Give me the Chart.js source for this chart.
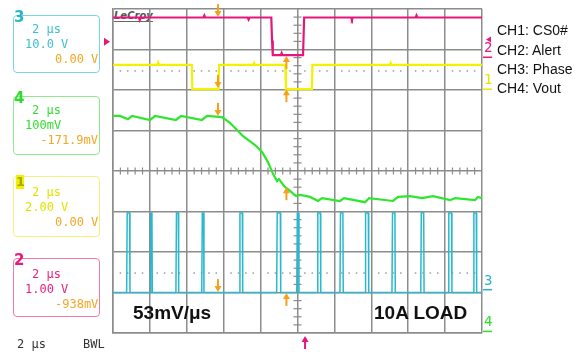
<!DOCTYPE html>
<html>
<head>
<meta charset="utf-8">
<script src="https://cdn.jsdelivr.net/npm/chart.js@4"></script>
<style>
	body { margin: 0; background: #fff; }
	#wrap { position: relative; width: 585px; height: 352px; overflow: hidden; }
	#scope { position: absolute; left: 0; top: 0; z-index: 1; }
	.box { position: absolute; left: 13px; width: 85px; border: 1.5px solid; border-radius: 4px; z-index: 2; }
	.txt { position: absolute; font: 12px/12px 'DejaVu Sans Mono', monospace; white-space: pre; z-index: 3; }
	.num { position: absolute; font: bold 15px/15px 'DejaVu Sans', sans-serif; z-index: 3; }
	.leg { position: absolute; left: 497px; font: 14px/16px 'Liberation Sans', Arial, sans-serif; color: #111; z-index: 3; }
	.big { position: absolute; font: bold 19px/19px 'Liberation Sans', Arial, sans-serif; color: #111; z-index: 3; }
	#logo { position: absolute; left: 114px; top: 10px; font: italic bold 10px/11px 'DejaVu Sans', sans-serif; color: #555; border-bottom: 1.5px solid #666; z-index: 0; }
</style>
</head>
<body>
<div id="wrap">
	<div id="logo">LeCroy</div>
	<canvas id="scope" width="585" height="352"></canvas>

	<!-- channel 3 box -->
	<div class="box" style="top:15px;height:56px;border-color:#7ad6e2"></div>
	<div class="num" style="left:14px;top:10px;color:#27b6c8">3</div>
	<div class="txt" style="left:32px;top:23px;color:#3bbfd0">2 μs</div>
	<div class="txt" style="left:25px;top:38px;color:#3bbfd0">10.0 V</div>
	<div class="txt" style="left:55px;top:53px;width:43px;text-align:right;color:#f5a623">0.00 V</div>

	<!-- channel 4 box -->
	<div class="box" style="top:96px;height:57px;border-color:#90ea8c"></div>
	<div class="num" style="left:14px;top:91px;color:#2ddd2d">4</div>
	<div class="txt" style="left:32px;top:104px;color:#33dd33">2 μs</div>
	<div class="txt" style="left:25px;top:119px;color:#33dd33">100mV</div>
	<div class="txt" style="left:38px;top:134px;width:60px;text-align:right;color:#f5a623">-171.9mV</div>

	<!-- channel 1 box -->
	<div class="box" style="top:176px;height:59px;border-color:#f2f27a"></div>
	<div class="num" style="left:16px;top:175px;width:8px;height:14px;line-height:14px;font-size:13px;text-align:center;background:#f0f000;color:#a8a800">1</div>
	<div class="txt" style="left:32px;top:186px;color:#e2e200">2 μs</div>
	<div class="txt" style="left:25px;top:201px;color:#e2e200">2.00 V</div>
	<div class="txt" style="left:55px;top:216px;width:43px;text-align:right;color:#f5a623">0.00 V</div>

	<!-- channel 2 box -->
	<div class="box" style="top:258px;height:57px;border-color:#f07aa8"></div>
	<div class="num" style="left:14px;top:253px;color:#e8197d">2</div>
	<div class="txt" style="left:32px;top:268px;color:#e8207f">2 μs</div>
	<div class="txt" style="left:25px;top:283px;color:#e8207f">1.00 V</div>
	<div class="txt" style="left:55px;top:298px;width:43px;text-align:right;color:#f5a623">-938mV</div>

	<div class="txt" style="left:17px;top:338px;color:#333">2 μs</div>
	<div class="txt" style="left:83px;top:338px;color:#333">BWL</div>

	<div class="leg" style="top:22px">CH1: CS0#</div>
	<div class="leg" style="top:42px">CH2: Alert</div>
	<div class="leg" style="top:61px">CH3: Phase</div>
	<div class="leg" style="top:80px">CH4: Vout</div>

	<div class="big" style="left:133px;top:303px">53mV/μs</div>
	<div class="big" style="left:374px;top:303px">10A LOAD</div>
</div>

<script>
// Time in µs (2 µs/div, trigger at 0), amplitude in screen divisions (centre = 0)

// CH2 Alert (magenta)
const alertT = [-10, -8.6, -8.55, -8.5, -5.1, -5.05, -5.0, -2.7, -2.65, -2.6, -1.42, -1.38, -1.34, -0.9, -0.86, -0.82, 0.30, 0.36, 2.9, 2.95, 3.0, 6.4, 6.45, 6.5, 10];
const alertV = [3.79, 3.79, 3.73, 3.79, 3.79, 3.84, 3.79, 3.79, 3.74, 3.79, 3.79, 3.22, 2.86, 2.86, 2.91, 2.86, 2.86, 3.79, 3.79, 3.74, 3.79, 3.79, 3.84, 3.79, 3.79];

// CH1 CS0# (yellow)
const csT = [-10, -7.6, -7.55, -7.5, -5.73, -5.70, -4.28, -4.25, -2.4, -2.35, -2.3, -0.66, -0.63, 0.78, 0.81, 5.0, 5.05, 5.1, 10];
const csV = [2.62, 2.62, 2.68, 2.62, 2.62, 2.02, 2.02, 2.62, 2.62, 2.67, 2.62, 2.62, 2.02, 2.02, 2.62, 2.62, 2.67, 2.62, 2.62];

// CH4 Vout (green)
const voutT = [-10, -9.62, -9.19, -8.97, -7.99, -7.72, -6.59, -6.31, -5.18, -4.91, -4.09, -3.66, -3.12, -2.95, -2.30, -1.92, -1.60, -1.33, -1.11, -1.00, -0.73, -0.41, -0.08, 0.14, 0.68, 1.11, 1.33, 2.30, 2.52, 3.66, 3.88, 5.18, 5.45, 6.10, 6.75, 7.34, 8.27, 8.54, 9.62, 9.78, 10];
const voutV = [1.36, 1.36, 1.28, 1.36, 1.26, 1.36, 1.26, 1.36, 1.26, 1.36, 1.33, 1.19, 0.94, 0.86, 0.64, 0.47, 0.22, -0.07, -0.25, -0.20, -0.37, -0.49, -0.62, -0.59, -0.64, -0.74, -0.67, -0.74, -0.67, -0.77, -0.67, -0.74, -0.64, -0.62, -0.67, -0.62, -0.72, -0.67, -0.72, -0.64, -0.67];

// CH3 Phase (cyan) pulses
const phaseStart = [-9.26, -7.99, -6.59, -5.19, -3.15, -1.13, -0.04, 1.07, 2.30, 3.66, 5.12, 6.68, 8.17, 9.53];
const phaseEnd = [-9.08, -7.87, -6.44, -5.07, -2.97, -0.91, 0.08, 1.26, 2.48, 3.86, 5.30, 6.86, 8.37, 9.71];
const phaseLow = -3.0;
const phaseHigh = -1.04;

// cursor arrows (orange): time, tip level, direction
const arrowT = [-4.31, -4.31, -4.31, -4.31, -0.60, -0.60, -0.60, -0.60];
const arrowTip = [3.80, 2.05, 1.36, -2.99, 2.84, 2.02, -0.40, -3.01];
const arrowDir = ['down', 'down', 'down', 'down', 'up', 'up', 'up', 'up'];

// trigger position / level
const triggerT = 0.41;
const triggerLevel = 3.19;

// dotted reference lines
const dottedLevels = [2.47, -2.52];

// right-hand channel markers
const markerText = ['2', '1', '3', '4'];
const markerLevel = [3.0, 2.21, -2.74, -3.77];
const markerColor = ['#e8197d', '#e6e600', '#27b6c8', '#2ddd2d'];

const MAGENTA = '#e5177b';
const YELLOW = '#f2f200';
const GREEN = '#2fe62f';
const CYAN = '#2bb8cc';
const ORANGE = '#f7a11a';
const GRID = '#8c8c8c';

function toPoints(ts, vs) {
	return ts.map((t, i) => ({ x: t, y: vs[i] }));
}

function pulsePoints() {
	const pts = [{ x: -10, y: phaseLow }];
	phaseStart.forEach((s, i) => {
		const e = phaseEnd[i];
		pts.push({ x: s, y: phaseLow });
		pts.push({ x: s + 0.03, y: phaseHigh });
		pts.push({ x: e - 0.02, y: phaseHigh });
		pts.push({ x: e, y: phaseLow });
	});
	pts.push({ x: 10, y: phaseLow });
	return pts;
}

// minor ticks on the centre cross and dotted reference lines
const scopeDecor = {
	id: 'scopeDecor',
	beforeDatasetsDraw(chart) {
		const { ctx, scales: { x, y } } = chart;
		const cx = x.getPixelForValue(0);
		const cy = y.getPixelForValue(0);
		ctx.save();
		ctx.strokeStyle = GRID;
		ctx.lineWidth = 1.2;
		for (let v = -4; v <= 4.001; v += 0.2) {
			if (Math.abs(v - Math.round(v)) < 0.01) continue;
			const py = y.getPixelForValue(v);
			ctx.beginPath();
			ctx.moveTo(cx - 4, py);
			ctx.lineTo(cx + 4, py);
			ctx.stroke();
		}
		for (let t = -10; t <= 10.001; t += 0.4) {
			if (Math.abs(t / 2 - Math.round(t / 2)) < 0.01) continue;
			const px = x.getPixelForValue(t);
			ctx.beginPath();
			ctx.moveTo(px, cy - 3.5);
			ctx.lineTo(px, cy + 3.5);
			ctx.stroke();
		}
		ctx.fillStyle = '#9a9a9a';
		dottedLevels.forEach((lv) => {
			const py = y.getPixelForValue(lv);
			for (let t = -10; t <= 10.001; t += 0.4) {
				if (Math.abs(t / 2 - Math.round(t / 2)) < 0.01) continue;
				const px = x.getPixelForValue(t);
				ctx.fillRect(px - 0.75, py - 0.75, 1.5, 1.5);
			}
		});
		ctx.restore();
	},
	afterDatasetsDraw(chart) {
		const { ctx, chartArea, scales: { x, y } } = chart;
		ctx.save();

		// orange cursor arrows
		function arrow(px, tipY, dir, color) {
			const s = dir === 'down' ? -1 : 1;
			ctx.strokeStyle = color;
			ctx.fillStyle = color;
			ctx.lineWidth = 2;
			ctx.beginPath();
			ctx.moveTo(px, tipY + s * 13);
			ctx.lineTo(px, tipY + s * 5);
			ctx.stroke();
			ctx.beginPath();
			ctx.moveTo(px - 3.5, tipY + s * 6);
			ctx.lineTo(px + 3.5, tipY + s * 6);
			ctx.lineTo(px, tipY);
			ctx.closePath();
			ctx.fill();
		}
		arrowT.forEach((t, i) => {
			arrow(x.getPixelForValue(t), y.getPixelForValue(arrowTip[i]), arrowDir[i], ORANGE);
		});

		// trigger position arrow under the grid
		arrow(x.getPixelForValue(triggerT), chartArea.bottom + 3, 'up', MAGENTA);

		// trigger level marker on the left
		const ty = y.getPixelForValue(triggerLevel);
		ctx.fillStyle = MAGENTA;
		ctx.beginPath();
		ctx.moveTo(chartArea.left - 9, ty - 4);
		ctx.lineTo(chartArea.left - 3, ty);
		ctx.lineTo(chartArea.left - 9, ty + 4);
		ctx.closePath();
		ctx.fill();

		// channel markers on the right
		ctx.font = '14px "DejaVu Sans Mono", monospace';
		ctx.textBaseline = 'bottom';
		markerText.forEach((m, i) => {
			const py = y.getPixelForValue(markerLevel[i]);
			ctx.fillStyle = markerColor[i];
			ctx.fillText(m, chartArea.right + 2, py + 6);
			ctx.fillRect(chartArea.right + 1, py + 7, 9, 1.5);
		});
		// small arrow above marker 2
		const m2 = y.getPixelForValue(markerLevel[0]);
		ctx.fillStyle = markerColor[0];
		ctx.beginPath();
		ctx.moveTo(chartArea.right + 4, m2 - 10);
		ctx.lineTo(chartArea.right + 9, m2 - 13);
		ctx.lineTo(chartArea.right + 9, m2 - 7);
		ctx.closePath();
		ctx.fill();
		ctx.restore();
	},
};

function axisOpts(min, max, step) {
	return {
		type: 'linear',
		min: min,
		max: max,
		ticks: { display: false, stepSize: step },
		grid: { color: GRID, lineWidth: 1.5, drawTicks: false },
		border: { color: GRID, width: 1.5 },
	};
}

const ctx = document.getElementById('scope').getContext('2d');
new Chart(ctx, {
	type: 'scatter',
	data: {
		datasets: [
			{ label: 'CH3: Phase', data: pulsePoints(), borderColor: CYAN, borderWidth: 1.5 },
			{ label: 'CH4: Vout', data: toPoints(voutT, voutV), borderColor: GREEN, borderWidth: 2.2 },
			{ label: 'CH1: CS0#', data: toPoints(csT, csV), borderColor: YELLOW, borderWidth: 2.2 },
			{ label: 'CH2: Alert', data: toPoints(alertT, alertV), borderColor: MAGENTA, borderWidth: 2.2 },
		].map((d) => Object.assign(d, { showLine: true, pointRadius: 0, tension: 0, fill: false })),
	},
	options: {
		responsive: false,
		animation: false,
		devicePixelRatio: 1,
		layout: { padding: { left: 113, right: 103, top: 9, bottom: 19 } },
		plugins: { legend: { display: false }, tooltip: { enabled: false } },
		scales: {
			x: axisOpts(-10, 10, 2),
			y: axisOpts(-4, 4, 1),
		},
	},
	plugins: [scopeDecor],
});
</script>
</body>
</html>
